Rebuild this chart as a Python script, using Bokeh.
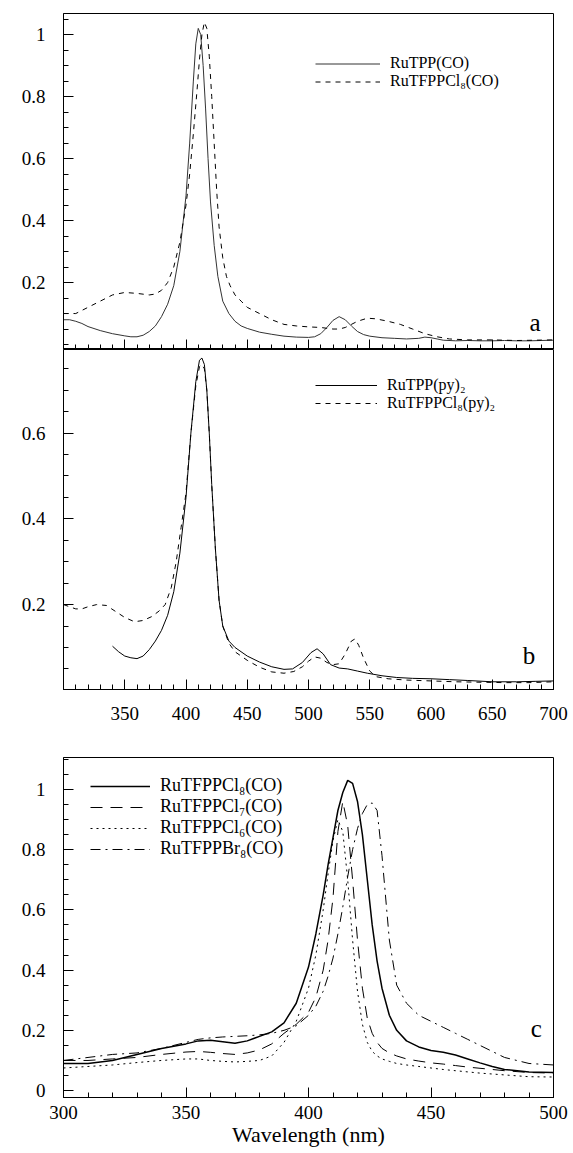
from bokeh.plotting import figure
from bokeh.models import (Range1d, FixedTicker, Legend, LegendItem, Label,
                          CustomLabelingPolicy)
from bokeh.layouts import column
from bokeh.embed import file_html
from bokeh.resources import INLINE

FONT = "Liberation Serif"

# ---------------- Panel a data ----------------
a_tpp_x = [300, 305, 310, 315, 320, 330, 340, 350, 355, 360, 365, 370, 375, 380, 385, 390, 395,
           400, 403, 406, 408, 410, 412, 414, 416, 418, 420, 423, 426, 430, 435, 440, 445, 450,
           460, 470, 480, 490, 500, 505, 510, 515, 520, 525, 530, 535, 540, 545, 550, 560, 570,
           580, 590, 595, 600, 605, 610, 620, 630, 640, 650, 660, 670, 680, 690, 700]
a_tpp_y = [0.080, 0.080, 0.075, 0.068, 0.058, 0.045, 0.035, 0.028, 0.025, 0.025, 0.030, 0.042,
           0.060, 0.090, 0.130, 0.190, 0.300, 0.480, 0.650, 0.850, 0.970, 1.020, 1.000, 0.900,
           0.760, 0.600, 0.460, 0.320, 0.220, 0.140, 0.100, 0.075, 0.060, 0.052, 0.040, 0.033,
           0.027, 0.024, 0.023, 0.025, 0.035, 0.055, 0.078, 0.090, 0.080, 0.060, 0.042, 0.032,
           0.027, 0.022, 0.020, 0.018, 0.020, 0.024, 0.022, 0.018, 0.014, 0.012, 0.013, 0.012,
           0.012, 0.013, 0.012, 0.012, 0.013, 0.014]

a_cl8_x = [300, 310, 320, 330, 340, 350, 360, 370, 375, 380, 385, 390, 395, 400, 403, 406, 409,
           411, 413, 415, 417, 419, 421, 423, 425, 427, 430, 433, 436, 440, 445, 450, 460, 470,
           480, 490, 500, 510, 520, 525, 530, 540, 548, 555, 565, 575, 585, 595, 605, 615, 630,
           650, 670, 700]
a_cl8_y = [0.100, 0.100, 0.120, 0.140, 0.160, 0.168, 0.165, 0.160, 0.163, 0.175, 0.200, 0.250,
           0.330, 0.450, 0.550, 0.680, 0.820, 0.920, 1.000, 1.040, 1.020, 0.930, 0.800, 0.650,
           0.500, 0.380, 0.280, 0.220, 0.190, 0.160, 0.140, 0.120, 0.100, 0.080, 0.065, 0.060,
           0.057, 0.055, 0.050, 0.050, 0.055, 0.075, 0.085, 0.083, 0.075, 0.065, 0.050, 0.035,
           0.025, 0.018, 0.015, 0.015, 0.013, 0.015]

# ---------------- Panel b data ----------------
b_tpp_x = [340, 345, 350, 355, 360, 365, 370, 375, 380, 385, 390, 395, 400, 404, 408, 411, 413,
           415, 417, 419, 421, 424, 427, 430, 435, 440, 450, 460, 470, 480, 487, 495, 502, 507,
           512, 518, 525, 532, 540, 548, 560, 572, 585, 600, 615, 630, 650, 670, 685, 700]
b_tpp_y = [0.103, 0.090, 0.080, 0.076, 0.074, 0.080, 0.095, 0.115, 0.140, 0.175, 0.230, 0.320,
           0.450, 0.600, 0.720, 0.770, 0.775, 0.760, 0.700, 0.600, 0.480, 0.330, 0.210, 0.150,
           0.115, 0.100, 0.080, 0.066, 0.055, 0.049, 0.050, 0.065, 0.088, 0.097, 0.085, 0.060,
           0.052, 0.050, 0.045, 0.040, 0.034, 0.030, 0.028, 0.027, 0.025, 0.023, 0.020, 0.020,
           0.021, 0.022]

b_cl8_x = [300, 305, 310, 315, 320, 327, 335, 342, 350, 358, 365, 372, 378, 383, 388, 392, 396,
           400, 404, 408, 411, 413, 415, 417, 419, 421, 424, 427, 430, 435, 440, 450, 460, 470,
           480, 488, 495, 500, 505, 510, 515, 520, 525, 530, 535, 538, 541, 545, 550, 555, 565,
           580, 600, 620, 640, 660, 680, 700]
b_cl8_y = [0.200, 0.195, 0.190, 0.190, 0.195, 0.200, 0.198, 0.185, 0.170, 0.160, 0.163, 0.172,
           0.185, 0.200, 0.240, 0.300, 0.380, 0.460, 0.600, 0.710, 0.755, 0.760, 0.750, 0.700,
           0.600, 0.480, 0.330, 0.210, 0.150, 0.110, 0.090, 0.070, 0.054, 0.043, 0.040, 0.044,
           0.055, 0.068, 0.078, 0.075, 0.065, 0.060, 0.062, 0.085, 0.115, 0.120, 0.105, 0.075,
           0.045, 0.032, 0.027, 0.024, 0.022, 0.020, 0.019, 0.018, 0.018, 0.020]

# ---------------- Panel c data ----------------
c_x = [300, 310, 320, 330, 340, 350, 355, 360, 365, 370, 375, 380, 385, 390, 395, 400, 403, 406,
       408, 410, 412, 414, 416, 418, 420, 422, 424, 426, 428, 430, 433, 436, 440, 445, 450, 455,
       460, 465, 470, 475, 480, 490, 500]
c_cl8 = [0.090, 0.090, 0.100, 0.120, 0.140, 0.155, 0.165, 0.167, 0.162, 0.157, 0.165, 0.180,
         0.195, 0.225, 0.290, 0.410, 0.520, 0.650, 0.750, 0.840, 0.930, 0.990, 1.030, 1.020,
         0.960, 0.850, 0.700, 0.550, 0.430, 0.340, 0.250, 0.200, 0.165, 0.145, 0.133, 0.127,
         0.118, 0.105, 0.092, 0.080, 0.070, 0.062, 0.060]
c_cl7 = [0.100, 0.100, 0.105, 0.110, 0.120, 0.128, 0.130, 0.127, 0.123, 0.120, 0.125, 0.135,
         0.155, 0.190, 0.220, 0.260, 0.310, 0.400, 0.500, 0.640, 0.860, 0.960, 0.880, 0.700,
         0.500, 0.340, 0.240, 0.190, 0.160, 0.140, 0.125, 0.115, 0.105, 0.098, 0.092, 0.088,
         0.083, 0.078, 0.074, 0.070, 0.066, 0.060, 0.058]
c_cl6 = [0.075, 0.080, 0.085, 0.093, 0.100, 0.105, 0.105, 0.100, 0.097, 0.095, 0.097, 0.100,
         0.115, 0.160, 0.230, 0.340, 0.450, 0.600, 0.720, 0.830, 0.900, 0.860, 0.700, 0.500,
         0.330, 0.220, 0.160, 0.130, 0.115, 0.105, 0.097, 0.090, 0.085, 0.080, 0.075, 0.070,
         0.066, 0.062, 0.058, 0.055, 0.052, 0.046, 0.045]
c_br8 = [0.100, 0.110, 0.120, 0.125, 0.140, 0.160, 0.170, 0.175, 0.178, 0.180, 0.182, 0.185,
         0.190, 0.200, 0.215, 0.250, 0.280, 0.330, 0.380, 0.440, 0.520, 0.610, 0.710, 0.800,
         0.870, 0.920, 0.950, 0.955, 0.930, 0.780, 0.500, 0.350, 0.290, 0.250, 0.230, 0.210,
         0.190, 0.170, 0.150, 0.130, 0.110, 0.090, 0.085]

# tick values
ab_x_major = [350, 400, 450, 500, 550, 600, 650, 700]
ab_x_minor = list(range(300, 701, 10))
a_y_major = [0.2, 0.4, 0.6, 0.8, 1.0]
b_y_major = [0.2, 0.4, 0.6]
ab_y_minor = [round(0.05 * i, 2) for i in range(0, 22)]
c_x_major = [300, 350, 400, 450, 500]
c_x_minor = list(range(300, 501, 10))
c_y_major = [0.0, 0.2, 0.4, 0.6, 0.8, 1.0]
c_y_minor = [round(0.05 * i, 2) for i in range(0, 23)]

LABELS_A = ["RuTPP(CO)", "RuTFPPCl\u2088(CO)"]
LABELS_B = ["RuTPP(py)\u2082", "RuTFPPCl\u2088(py)\u2082"]
LABELS_C = ["RuTFPPCl\u2088(CO)", "RuTFPPCl\u2087(CO)", "RuTFPPCl\u2086(CO)", "RuTFPPBr\u2088(CO)"]
X_TITLE = "Wavelength (nm)"

W = 573


def style(p, xt, xm, yt, ym):
    p.outline_line_color = "black"
    p.outline_line_width = 1
    p.xgrid.visible = False
    p.ygrid.visible = False
    p.xaxis.ticker = FixedTicker(ticks=xt, minor_ticks=xm)
    p.yaxis.ticker = FixedTicker(ticks=yt, minor_ticks=ym)
    for axes in (p.xaxis, p.yaxis):
        axes.major_tick_out = 0
        axes.minor_tick_out = 0
        axes.major_tick_in = 10
        axes.minor_tick_in = 5
        axes.axis_line_color = "black"
        axes.major_tick_line_color = "black"
        axes.minor_tick_line_color = "black"
        axes.major_label_text_font = FONT
        axes.major_label_text_font_size = "19px"
        axes.major_label_text_color = "black"
    p.yaxis.major_label_overrides = {1.0: "1", 0.0: "0"}
    p.yaxis.major_label_standoff = 18


def legend(p, items, x, y, gw, rowh, fs):
    lg = Legend(items=[LegendItem(label=l, renderers=[r]) for l, r in items],
                location=(x, y), padding=0, margin=0, spacing=0,
                glyph_width=gw, glyph_height=rowh, label_height=rowh,
                label_standoff=10, border_line_alpha=0, background_fill_alpha=0,
                label_text_font=FONT, label_text_font_size=fs, label_text_color="black")
    p.add_layout(lg)


# ---------------- Panel a ----------------
pa = figure(width=W, height=349, x_range=Range1d(300, 700), y_range=Range1d(-0.016, 1.068),
            output_backend="svg", toolbar_location=None,
            min_border_left=63, min_border_right=18, min_border_top=13, min_border_bottom=0)
style(pa, ab_x_major, ab_x_minor, a_y_major, ab_y_minor)
pa.xaxis.major_label_text_font_size = "0px"
pa.xaxis.major_label_standoff = 0
pa.xaxis.major_label_policy = CustomLabelingPolicy(code="return []")
ra1 = pa.line(a_tpp_x, a_tpp_y, line_color="#333333", line_width=1)
ra2 = pa.line(a_cl8_x, a_cl8_y, line_color="black", line_width=1, line_dash="5 5")
legend(pa, [(LABELS_A[0], ra1), (LABELS_A[1], ra2)], 252, 259, 65, 17, "16px")
pa.add_layout(Label(x=685, y=0.07, text="a", text_align="center", text_baseline="middle",
                    text_font=FONT, text_font_size="25px", text_color="black"))

# ---------------- Panel b ----------------
pb = figure(width=W, height=380, x_range=Range1d(300, 700), y_range=Range1d(0.002, 0.795),
            output_backend="svg", toolbar_location=None,
            min_border_left=63, min_border_right=18, min_border_top=0, min_border_bottom=40)
style(pb, ab_x_major, ab_x_minor, b_y_major, ab_y_minor)
pb.xaxis.major_label_standoff = 17
rb1 = pb.line(b_tpp_x, b_tpp_y, line_color="black", line_width=1)
rb2 = pb.line(b_cl8_x, b_cl8_y, line_color="black", line_width=1, line_dash="5 5")
legend(pb, [(LABELS_B[0], rb1), (LABELS_B[1], rb2)], 252, 277, 62, 18, "16px")
pb.add_layout(Label(x=680, y=0.082, text="b", text_align="center", text_baseline="middle",
                    text_font=FONT, text_font_size="25px", text_color="black"))

# ---------------- Panel c ----------------
pc = figure(width=W, height=422, x_range=Range1d(300, 500), y_range=Range1d(-0.023, 1.106),
            output_backend="svg", toolbar_location=None,
            min_border_left=63, min_border_right=20, min_border_top=28, min_border_bottom=54)
style(pc, c_x_major, c_x_minor, c_y_major, c_y_minor)
pc.xaxis.major_label_standoff = 8
pc.xaxis.axis_label = X_TITLE
pc.xaxis.axis_label_standoff = 0
pc.xaxis.axis_label_text_font = FONT
pc.xaxis.axis_label_text_font_size = "22px"
pc.xaxis.axis_label_text_font_style = "normal"
pc.xaxis.axis_label_text_color = "black"
rc1 = pc.line(c_x, c_cl8, line_color="black", line_width=1.5)
rc2 = pc.line(c_x, c_cl7, line_color="black", line_width=1, line_dash="12 8")
rc3 = pc.line(c_x, c_cl6, line_color="black", line_width=1, line_dash="2 4")
rc4 = pc.line(c_x, c_br8, line_color="black", line_width=1, line_dash="10 5 2 5")
legend(pc, [(LABELS_C[0], rc1), (LABELS_C[1], rc2), (LABELS_C[2], rc3), (LABELS_C[3], rc4)],
       27, 238, 60, 20, "18px")
pc.add_layout(Label(x=493, y=0.206, text="c", text_align="center", text_baseline="middle",
                    text_font=FONT, text_font_size="25px", text_color="black"))

layout = column(pa, pb, pc)
open("out.html", "w").write(file_html(layout, INLINE))
